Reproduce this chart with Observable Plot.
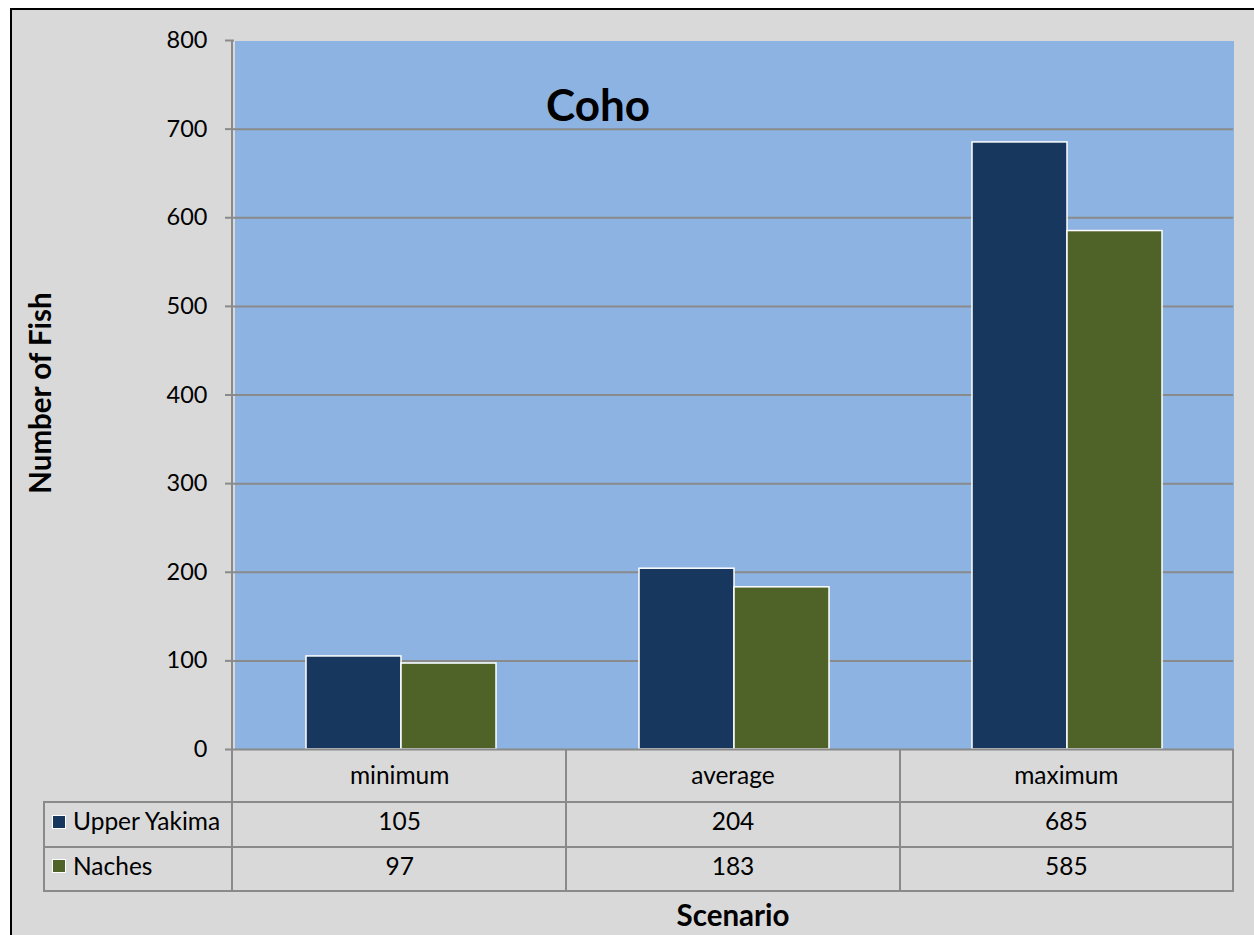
<!DOCTYPE html>
<html>
<head>
<meta charset="utf-8">
<script src="https://cdn.jsdelivr.net/npm/d3@7"></script>
<script src="https://cdn.jsdelivr.net/npm/@observablehq/plot@0.6"></script>
<style>
  html, body { margin: 0; padding: 0; background: #ffffff; }
  #wrap { position: relative; width: 1254px; height: 935px; overflow: hidden; background: #ffffff; font-family: Lato, "Open Sans", sans-serif; }
  #chartbg { position: absolute; left: 10px; top: 8px; width: 1300px; height: 1000px; background: #D9D9D9; border-left: 2px solid #000; border-top: 2px solid #000; }
  #plot { position: absolute; left: 0; top: 0; }
  .line { position: absolute; background: #8A8A8A; }
  .cell { position: absolute; display: flex; align-items: center; justify-content: center; font-size: 24.5px; color: #000; white-space: nowrap; }
  .title { position: absolute; font-weight: bold; color: #000; white-space: nowrap; }
</style>
</head>
<body>
<div id="wrap">
  <div id="chartbg"></div>
  <div id="plot"></div>
</div>
<script>
// ---- data ----
const categories = ["minimum", "average", "maximum"];
const seriesNames = ["Upper Yakima", "Naches"];
const upperYakima = [105, 204, 685];
const naches = [97, 183, 585];
const yTicks = [0, 100, 200, 300, 400, 500, 600, 700, 800];
const gridTicks = [100, 200, 300, 400, 500, 600, 700];
const seriesColors = ["#17375E", "#4F6228"];
const chartTitle = "Coho";
const yLabel = "Number of Fish";
const xLabel = "Scenario";

const seriesValues = [upperYakima, naches];
const data = categories.flatMap((c, i) =>
  seriesNames.map((s, j) => ({scenario: c, series: s, value: seriesValues[j][i]}))
);

const W = 1254, H = 935;
const mL = 233, mR = 21, mT = 40, mB = 186;
const gridColor = "#8A8A8A";

const chart = Plot.plot({
  width: W,
  height: H,
  marginLeft: mL,
  marginRight: mR,
  marginTop: mT,
  marginBottom: mB,
  style: {background: "transparent", fontFamily: "Lato, 'Open Sans', sans-serif", fontSize: "23.5px", color: "#000"},
  fx: {domain: categories, padding: 0, axis: null, label: null},
  x: {domain: seriesNames, paddingInner: 0, paddingOuter: 0.75, axis: null, label: null},
  y: {domain: [0, 800], label: null, axis: null},
  color: {domain: seriesNames, range: seriesColors},
  marks: [
    Plot.frame({fill: "#8DB3E2", stroke: "none", shapeRendering: "crispEdges"}),
    Plot.gridY(gridTicks, {stroke: gridColor, strokeOpacity: 1, strokeWidth: 2}),
    Plot.barY(data, {fx: "scenario", x: "series", y: "value", fill: "series", stroke: "white", strokeWidth: 1.5}),
    Plot.ruleY([0], {stroke: gridColor, strokeWidth: 2}),
    Plot.axisY(yTicks, {anchor: "left", tickSize: 9, tickPadding: 18, stroke: gridColor, strokeWidth: 2, fill: "#000", fontSize: 23.5, label: null})
  ]
});
document.getElementById("plot").appendChild(chart);

// ---- overlays: axis line, data table, titles ----
const wrap = document.getElementById("wrap");
function add(cls, style, text) {
  const d = document.createElement("div");
  d.className = cls;
  Object.assign(d.style, style);
  if (text !== undefined) d.textContent = text;
  wrap.appendChild(d);
  return d;
}
const x = d3.scaleBand().domain(categories).range([mL, W - mR]);
const plotRight = W - mR;
const rowTops = [749, 801, 846, 890];
const legendLeft = 43;

// vertical axis line
add("line", {left: (mL - 2) + "px", top: mT + "px", width: "2px", height: (rowTops[3] - mT + 1) + "px"});
// horizontal table lines
[1, 2, 3].forEach(k => {
  add("line", {left: legendLeft + "px", top: rowTops[k] + "px", width: (plotRight - legendLeft + 1) + "px", height: "2px"});
});
// left legend border
add("line", {left: legendLeft + "px", top: rowTops[1] + "px", width: "2px", height: (rowTops[3] - rowTops[1] + 2) + "px"});
// vertical category separators
categories.forEach(c => {
  const xr = x(c) + x.bandwidth();
  add("line", {left: (Math.round(xr) - 1) + "px", top: rowTops[0] + "px", width: "2px", height: (rowTops[3] - rowTops[0] + 2) + "px"});
});
// header row: categories
categories.forEach(c => {
  add("cell", {left: x(c) + "px", top: (rowTops[0] + 1) + "px", width: x.bandwidth() + "px", height: (rowTops[1] - rowTops[0] - 4) + "px"}, c);
});
// value rows
seriesNames.forEach((s, j) => {
  const top = rowTops[j + 1] - 1, h = rowTops[j + 2] - rowTops[j + 1] - 4;
  categories.forEach((c, i) => {
    add("cell", {left: x(c) + "px", top: top + "px", width: x.bandwidth() + "px", height: h + "px"}, String(seriesValues[j][i]));
  });
  // legend cell
  const lc = add("cell", {left: (legendLeft + 9) + "px", top: top + "px", height: h + "px", justifyContent: "flex-start"});
  const sw = document.createElement("span");
  Object.assign(sw.style, {display: "inline-block", width: "12px", height: "12px", background: seriesColors[j], border: "1.5px solid #fff", marginRight: "7px", marginTop: "2px"});
  lc.appendChild(sw);
  lc.appendChild(document.createTextNode(s));
});

// chart title
add("title", {left: "546px", top: "76px", fontSize: "44px", lineHeight: "56px"}, chartTitle);
// x label
add("title", {left: (mL + (plotRight - mL) / 2 - 80) + "px", top: "896px", width: "160px", textAlign: "center", fontSize: "29.5px", lineHeight: "38px"}, xLabel);
// y label (rotated)
add("title", {left: "40px", top: "393px", fontSize: "29.5px", lineHeight: "38px", transform: "translate(-50%, -50%) rotate(-90deg)"}, yLabel);
</script>
</body>
</html>
